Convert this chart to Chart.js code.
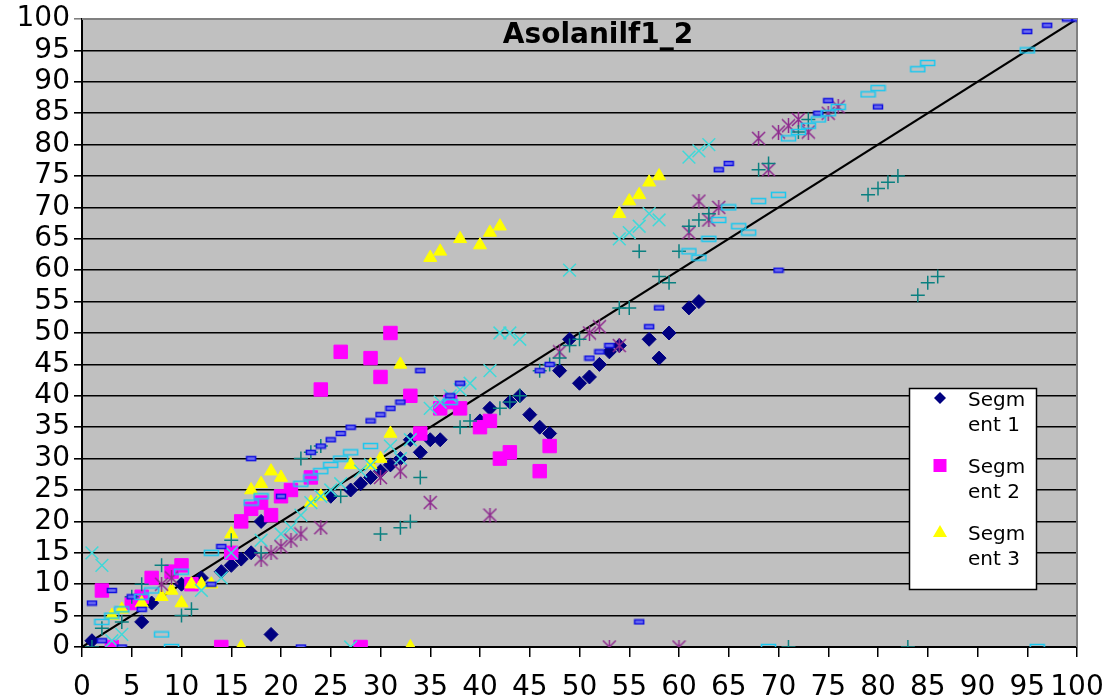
<!DOCTYPE html>
<html>
<head>
<meta charset="utf-8">
<script src="https://cdn.jsdelivr.net/npm/chart.js@4"></script>
<style>
  html, body { margin: 0; padding: 0; background: #fff; }
</style>
</head>
<body>
<canvas id="myChart" width="1105" height="700"></canvas>
<script>
// values, [x, y]
const chartTitle = 'Asolanilf1_2';
const legendNames = ['Segm|ent 1', 'Segm|ent 2', 'Segm|ent 3'];

const seg1 = [[1,1],[6,4],[7,7],[10,10],[12,11],[14,12],[15,13],[16,14],[17,15],[18,20],[19,2],
  [25,24],[27,25],[28,26],[29,27],[30,28],[31,29],[32,30],[33,33],[34,31],[35,33],[36,33],
  [40,36],[41,38],[43,39],[44,40],[45,37],[46,35],[47,34],[48,44],[49,49],[50,42],[51,43],
  [52,45],[53,47],[54,48],[57,49],[58,46],[59,50],[61,54],[62,55]];
const seg2 = [[2,9],[3,0],[5,7],[6,8],[7,11],[9,12],[10,13],[11,10],[14,0],[15,15],[16,20],
  [17,22],[18,23],[19,21],[20,24],[21,25],[23,27],[24,41],[26,47],[28,0],[29,46],[30,43],
  [31,50],[33,40],[34,34],[36,38],[37,39],[38,38],[40,35],[41,36],[42,30],[43,31],[46,28],[47,32]];
const seg3 = [[3,5],[4,6],[6,7],[8,8],[9,9],[10,7],[11,10],[12,10],[13,10],[15,18],[16,0],
  [17,25],[18,26],[19,28],[20,27],[23,23],[24,24],[27,29],[29,29],[30,30],[31,34],[32,45],
  [33,0],[35,62],[36,63],[38,65],[40,64],[41,66],[42,67],[54,69],[55,71],[56,72],[57,74],[58,75]];
const seg4 = [[1,15],[2,13],[3,1],[4,2],[12,9],[14,11],[15,15],[18,17],[20,18],[21,19],[22,21],
  [23,23],[24,24],[25,25],[26,26],[27,0],[28,28],[29,29],[31,32],[32,30],[33,33],[35,38],
  [36,39],[37,40],[38,41],[39,42],[41,44],[42,50],[43,50],[44,49],[49,60],[54,65],[55,66],
  [56,67],[57,69],[58,68],[61,78],[62,79],[63,80]];
const seg5 = [[8,10],[9,11],[18,14],[19,15],[20,16],[21,17],[22,18],[24,19],[30,27],[32,28],
  [35,23],[41,21],[48,47],[51,50],[52,51],[53,0],[54,48],[60,0],[61,66],[62,71],[63,68],
  [64,70],[68,81],[69,76],[70,82],[71,83],[72,84],[73,82],[75,85],[76,86]];
const seg6 = [[1,0],[2,3],[4,4],[5,8],[6,10],[8,13],[10,5],[11,6],[15,17],[18,15],[22,30],
  [23,31],[24,32],[26,24],[30,18],[32,19],[33,20],[34,27],[38,35],[39,36],[42,38],[43,39],
  [44,40],[46,44],[47,45],[48,46],[49,48],[50,49],[54,54],[55,54],[56,63],[58,59],[59,58],
  [60,63],[61,67],[62,68],[63,69],[68,76],[69,77],[71,0],[72,82],[73,84],[79,72],[80,73],
  [81,74],[82,75],[83,0],[84,56],[85,58],[86,59]];
const seg7 = [[1,7],[2,1],[3,9],[4,0],[5,8],[6,6],[13,10],[14,16],[17,30],[20,24],[22,0],
  [23,31],[24,32],[25,33],[26,34],[27,35],[29,36],[30,37],[31,38],[32,39],[34,44],[37,40],
  [38,42],[46,44],[47,45],[51,46],[52,47],[53,48],[56,4],[57,51],[58,54],[64,76],[65,77],
  [70,60],[74,85],[75,87],[80,86],[95,98],[97,99],[99,100],[100,100]];
const seg8 = [[2,4],[3,5],[4,6],[6,8],[7,9],[8,2],[9,0],[10,12],[13,15],[17,23],[18,24],
  [22,26],[23,27],[24,28],[25,29],[26,30],[27,31],[29,32],[37,39],[61,63],[62,62],[63,65],
  [64,68],[65,70],[66,67],[67,66],[68,71],[69,0],[70,72],[71,81],[72,82],[73,83],[74,84],
  [75,85],[76,86],[79,88],[80,89],[84,92],[85,93],[95,95],[96,0]];
const diagonal = [[0,0],[100,100]];

const toXY = arr => arr.map(p => ({x: p[0], y: p[1]}));
const FONT = '"DejaVu Sans", "Liberation Sans", sans-serif';

// marker images for the Excel dash and star markers
function dashMarker(w, h, stroke, fill) {
  const c = document.createElement('canvas');
  c.width = w + 2; c.height = h + 2;
  const g = c.getContext('2d');
  if (fill) { g.fillStyle = fill; g.fillRect(1, 1, w, h); }
  g.strokeStyle = stroke; g.lineWidth = 1.5;
  g.strokeRect(1.5, 1.5, w - 1, h - 1);
  return c;
}
function starMarker(s, color) {
  const c = document.createElement('canvas');
  c.width = s; c.height = s;
  const g = c.getContext('2d');
  g.strokeStyle = color; g.lineWidth = 1.5;
  g.beginPath();
  g.moveTo(s / 2, 0); g.lineTo(s / 2, s);
  g.moveTo(1, 1); g.lineTo(s - 1, s - 1);
  g.moveTo(s - 1, 1); g.lineTo(1, s - 1);
  g.stroke();
  return c;
}
const blueDash = dashMarker(10, 5, '#1010E0', '#6F6FF0');
const skyDash = dashMarker(15, 6, '#19C8F0', null);
const purpleStar = starMarker(15, '#8E2A8E');

const pluginBg = {
  id: 'plotBg',
  beforeDraw(chart) {
    const {ctx, chartArea: a} = chart;
    ctx.save();
    ctx.fillStyle = '#fff';
    ctx.fillRect(0, 0, chart.width, chart.height);
    ctx.fillStyle = '#C0C0C0';
    ctx.fillRect(a.left, a.top, a.right - a.left, a.bottom - a.top);
    ctx.restore();
  },
  beforeDatasetsDraw(chart) {
    const {ctx, chartArea: a} = chart;
    ctx.save();
    ctx.strokeStyle = '#808080';
    ctx.lineWidth = 2;
    ctx.beginPath();
    ctx.moveTo(a.left, a.top); ctx.lineTo(a.right, a.top); ctx.lineTo(a.right, a.bottom);
    ctx.stroke();
    ctx.restore();
  },
  afterDraw(chart) {
    const {ctx} = chart;
    ctx.save();
    // title
    ctx.fillStyle = '#000';
    ctx.font = 'bold 28px ' + FONT;
    ctx.textAlign = 'center';
    ctx.textBaseline = 'alphabetic';
    ctx.fillText(chartTitle, 598, 43);
    // legend box
    ctx.fillStyle = '#fff';
    ctx.fillRect(909, 388, 128, 202);
    ctx.strokeStyle = '#000';
    ctx.lineWidth = 1.5;
    ctx.strokeRect(909.5, 388.5, 127, 201);
    ctx.textAlign = 'left';
    ctx.font = '20px ' + FONT;
    legendNames.forEach((name, i) => {
      const y0 = 406 + i * 67;
      const lines = name.split('|');
      ctx.fillStyle = '#000';
      ctx.fillText(lines[0], 968, y0);
      ctx.fillText(lines[1], 968, y0 + 25);
      const mx = 940, my = y0 - 8;
      ctx.beginPath();
      if (i === 0) {
        ctx.fillStyle = '#000080';
        ctx.moveTo(mx, my - 6); ctx.lineTo(mx + 6, my); ctx.lineTo(mx, my + 6); ctx.lineTo(mx - 6, my);
      } else if (i === 1) {
        ctx.fillStyle = '#FF00FF';
        ctx.rect(mx - 6.5, my - 6, 13, 13);
      } else {
        ctx.fillStyle = '#FFFF00';
        ctx.moveTo(mx, my - 7); ctx.lineTo(mx + 7, my + 5); ctx.lineTo(mx - 7, my + 5);
      }
      ctx.closePath();
      ctx.fill();
    });
    ctx.restore();
  }
};

const ctx = document.getElementById('myChart');
new Chart(ctx, {
  type: 'scatter',
  data: {
    datasets: [
      { label: 'Segment 1', data: toXY(seg1), pointStyle: 'rectRot', pointRadius: 7,
        backgroundColor: '#000080', borderColor: '#000080', borderWidth: 1, order: 8 },
      { label: 'Segment 2', data: toXY(seg2), pointStyle: 'rect', pointRadius: 9.5,
        backgroundColor: '#FF00FF', borderColor: '#FF00FF', borderWidth: 1, order: 7 },
      { label: 'Segment 3', data: toXY(seg3), pointStyle: 'triangle', pointRadius: 7.5,
        backgroundColor: '#FFFF00', borderColor: '#FFFF00', borderWidth: 1, order: 6 },
      { label: 'Segment 4', data: toXY(seg4), pointStyle: 'crossRot', pointRadius: 9,
        backgroundColor: '#40D8D8', borderColor: '#40D8D8', borderWidth: 1.5, order: 5 },
      { label: 'Segment 5', data: toXY(seg5), pointStyle: purpleStar, pointRadius: 7,
        backgroundColor: '#8E2A8E', borderColor: '#8E2A8E', order: 4 },
      { label: 'Segment 6', data: toXY(seg6), pointStyle: 'cross', pointRadius: 7,
        backgroundColor: '#0A8080', borderColor: '#0A8080', borderWidth: 1.5, order: 3 },
      { label: 'Segment 7', data: toXY(seg7), pointStyle: blueDash, pointRadius: 5,
        backgroundColor: '#1010E0', borderColor: '#1010E0', order: 2 },
      { label: 'Segment 8', data: toXY(seg8), pointStyle: skyDash, pointRadius: 7,
        backgroundColor: '#19C8F0', borderColor: '#19C8F0', order: 1 },
      { label: 'x=y', data: toXY(diagonal), showLine: true, pointRadius: 0,
        borderColor: '#000', borderWidth: 2.2, order: 9 }
    ]
  },
  options: {
    responsive: false,
    animation: false,
    layout: { padding: { top: 19, right: 28, left: 0, bottom: 0 } },
    plugins: {
      legend: { display: false },
      tooltip: { enabled: false },
      title: { display: false }
    },
    scales: {
      x: {
        type: 'linear', min: 0, max: 100,
        ticks: { stepSize: 5, color: '#000', padding: 14, maxRotation: 0, autoSkip: false,
                 font: { family: FONT, size: 28 } },
        grid: { drawOnChartArea: false, drawTicks: true, tickLength: 10, color: '#000', lineWidth: 1.5 },
        border: { color: '#000', width: 2 },
        afterFit: s => { s.height = 53; s.paddingLeft = 0; s.paddingRight = 0; }
      },
      y: {
        type: 'linear', min: 0, max: 100,
        ticks: { stepSize: 5, color: '#000', padding: 4, autoSkip: false,
                 font: { family: FONT, size: 28 } },
        grid: { drawOnChartArea: true, drawTicks: true, tickLength: 8, lineWidth: 1.6,
                color: c => (c.tick && c.tick.value === 100) ? '#808080' : '#000' },
        border: { color: '#000', width: 2 },
        afterFit: s => { s.width = 82; s.paddingTop = 0; s.paddingBottom = 0; }
      }
    }
  },
  plugins: [pluginBg]
});
</script>
</body>
</html>
